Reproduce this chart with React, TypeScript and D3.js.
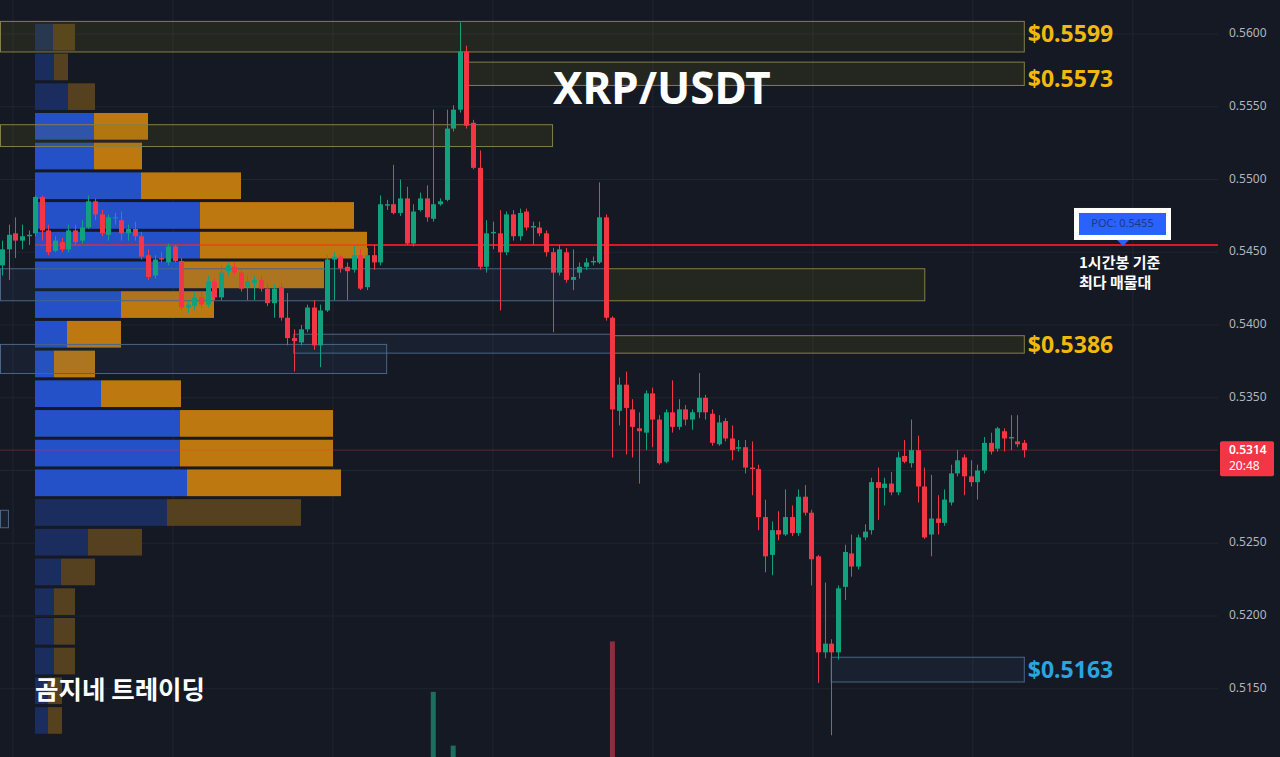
import React from 'react';
import * as d3 from 'd3';

const W = 1280;
const H = 757;

// Hourly candles: [open, high, low, close]
const ohlc: [number, number, number, number][] = [
  [0.5441, 0.5458, 0.5434, 0.5452], [0.5452, 0.5469, 0.5431, 0.5462], [0.5463, 0.5474, 0.5446, 0.5458],
  [0.5458, 0.5469, 0.5452, 0.5461], [0.5461, 0.5465, 0.5455, 0.5462], [0.5463, 0.5489, 0.5461, 0.5488],
  [0.5488, 0.5489, 0.5458, 0.5465], [0.5465, 0.5469, 0.5448, 0.5450], [0.5451, 0.5461, 0.5450, 0.5458],
  [0.5457, 0.5460, 0.5450, 0.5452], [0.5452, 0.5469, 0.5450, 0.5465], [0.5465, 0.5469, 0.5455, 0.5457],
  [0.5458, 0.5472, 0.5456, 0.5467], [0.5467, 0.5489, 0.5466, 0.5485], [0.5485, 0.5487, 0.5472, 0.5476],
  [0.5476, 0.5479, 0.5461, 0.5463], [0.5462, 0.5476, 0.5458, 0.5474], [0.5474, 0.5477, 0.5469, 0.5474],
  [0.5472, 0.5478, 0.5458, 0.5463], [0.5463, 0.5469, 0.5458, 0.5466], [0.5466, 0.5471, 0.5458, 0.5461],
  [0.5461, 0.5464, 0.5445, 0.5447], [0.5448, 0.5452, 0.5431, 0.5433], [0.5434, 0.5448, 0.5432, 0.5445],
  [0.5446, 0.5450, 0.5443, 0.5445], [0.5443, 0.5456, 0.5441, 0.5454], [0.5454, 0.5455, 0.5443, 0.5444],
  [0.5444, 0.5446, 0.5410, 0.5412], [0.5412, 0.5417, 0.5408, 0.5414], [0.5413, 0.5423, 0.5410, 0.5419],
  [0.5419, 0.5423, 0.5412, 0.5414], [0.5414, 0.5434, 0.5412, 0.5430], [0.5430, 0.5432, 0.5417, 0.5419],
  [0.5419, 0.5441, 0.5417, 0.5436], [0.5437, 0.5443, 0.5434, 0.5441], [0.5440, 0.5443, 0.5434, 0.5436],
  [0.5436, 0.5439, 0.5423, 0.5425], [0.5426, 0.5434, 0.5417, 0.5430], [0.5429, 0.5434, 0.5417, 0.5431],
  [0.5431, 0.5434, 0.5423, 0.5425], [0.5425, 0.5428, 0.5413, 0.5415], [0.5415, 0.5428, 0.5405, 0.5425],
  [0.5426, 0.5429, 0.5403, 0.5405], [0.5405, 0.5422, 0.5386, 0.5391], [0.5391, 0.5397, 0.5368, 0.5389],
  [0.5388, 0.5400, 0.5386, 0.5397], [0.5397, 0.5414, 0.5395, 0.5412], [0.5412, 0.5417, 0.5383, 0.5386],
  [0.5386, 0.5414, 0.5371, 0.5410], [0.5410, 0.5448, 0.5409, 0.5445], [0.5445, 0.5450, 0.5417, 0.5447],
  [0.5447, 0.5448, 0.5436, 0.5439], [0.5440, 0.5443, 0.5417, 0.5437], [0.5438, 0.5455, 0.5436, 0.5448],
  [0.5448, 0.5452, 0.5424, 0.5425], [0.5426, 0.5453, 0.5424, 0.5448], [0.5448, 0.5455, 0.5438, 0.5443],
  [0.5443, 0.5489, 0.5441, 0.5483], [0.5482, 0.5486, 0.5479, 0.5483], [0.5483, 0.5510, 0.5476, 0.5477],
  [0.5477, 0.5500, 0.5475, 0.5487], [0.5487, 0.5495, 0.5455, 0.5456], [0.5456, 0.5483, 0.5454, 0.5478],
  [0.5479, 0.5491, 0.5478, 0.5487], [0.5487, 0.5496, 0.5471, 0.5474], [0.5473, 0.5548, 0.5471, 0.5483],
  [0.5483, 0.5487, 0.5482, 0.5485], [0.5486, 0.5548, 0.5485, 0.5535], [0.5535, 0.5551, 0.5533, 0.5548],
  [0.5548, 0.5608, 0.5546, 0.5588], [0.5588, 0.5592, 0.5535, 0.5537], [0.5539, 0.5541, 0.5507, 0.5508],
  [0.5508, 0.5520, 0.5438, 0.5440], [0.5440, 0.5472, 0.5436, 0.5463], [0.5463, 0.5471, 0.5452, 0.5464],
  [0.5463, 0.5479, 0.5410, 0.5450], [0.5450, 0.5478, 0.5448, 0.5476], [0.5476, 0.5479, 0.5458, 0.5461],
  [0.5461, 0.5480, 0.5458, 0.5477], [0.5478, 0.5480, 0.5465, 0.5467], [0.5467, 0.5471, 0.5455, 0.5468],
  [0.5467, 0.5471, 0.5461, 0.5463], [0.5463, 0.5465, 0.5447, 0.5450], [0.5450, 0.5453, 0.5395, 0.5436],
  [0.5436, 0.5455, 0.5434, 0.5452], [0.5450, 0.5453, 0.5429, 0.5431], [0.5431, 0.5452, 0.5424, 0.5433],
  [0.5436, 0.5443, 0.5432, 0.5440], [0.5440, 0.5446, 0.5438, 0.5443], [0.5443, 0.5447, 0.5441, 0.5444],
  [0.5443, 0.5498, 0.5442, 0.5474], [0.5474, 0.5476, 0.5403, 0.5405], [0.5405, 0.5406, 0.5309, 0.5342],
  [0.5341, 0.5364, 0.5331, 0.5359], [0.5359, 0.5368, 0.5311, 0.5343], [0.5342, 0.5349, 0.5309, 0.5330],
  [0.5329, 0.5340, 0.5291, 0.5327], [0.5326, 0.5355, 0.5314, 0.5353], [0.5353, 0.5357, 0.5316, 0.5335],
  [0.5335, 0.5338, 0.5304, 0.5305], [0.5306, 0.5342, 0.5305, 0.5340], [0.5340, 0.5362, 0.5326, 0.5330],
  [0.5330, 0.5349, 0.5328, 0.5342], [0.5342, 0.5345, 0.5331, 0.5335], [0.5335, 0.5342, 0.5328, 0.5340],
  [0.5340, 0.5367, 0.5336, 0.5350], [0.5350, 0.5352, 0.5335, 0.5340], [0.5339, 0.5342, 0.5317, 0.5319],
  [0.5318, 0.5338, 0.5317, 0.5333], [0.5334, 0.5336, 0.5320, 0.5322], [0.5322, 0.5331, 0.5307, 0.5314],
  [0.5315, 0.5321, 0.5313, 0.5316], [0.5316, 0.5321, 0.5298, 0.5302], [0.5302, 0.5320, 0.5283, 0.5301],
  [0.5301, 0.5304, 0.5259, 0.5268], [0.5268, 0.5280, 0.5230, 0.5241], [0.5242, 0.5265, 0.5228, 0.5259],
  [0.5259, 0.5272, 0.5252, 0.5256], [0.5256, 0.5287, 0.5255, 0.5268], [0.5268, 0.5276, 0.5255, 0.5257],
  [0.5257, 0.5287, 0.5255, 0.5282], [0.5282, 0.5290, 0.5269, 0.5271], [0.5271, 0.5273, 0.5221, 0.5239],
  [0.5241, 0.5242, 0.5154, 0.5175], [0.5175, 0.5223, 0.5171, 0.5181], [0.5181, 0.5184, 0.5118, 0.5175],
  [0.5175, 0.5221, 0.5170, 0.5219], [0.5220, 0.5249, 0.5211, 0.5244], [0.5243, 0.5256, 0.5227, 0.5234],
  [0.5234, 0.5256, 0.5232, 0.5254], [0.5254, 0.5263, 0.5252, 0.5258], [0.5259, 0.5295, 0.5256, 0.5292],
  [0.5292, 0.5302, 0.5266, 0.5288], [0.5288, 0.5295, 0.5276, 0.5291], [0.5291, 0.5299, 0.5283, 0.5285],
  [0.5285, 0.5313, 0.5283, 0.5309], [0.5310, 0.5321, 0.5305, 0.5306], [0.5305, 0.5335, 0.5302, 0.5314],
  [0.5314, 0.5324, 0.5278, 0.5289], [0.5289, 0.5302, 0.5253, 0.5254], [0.5256, 0.5297, 0.5241, 0.5267],
  [0.5267, 0.5283, 0.5256, 0.5264], [0.5264, 0.5287, 0.5262, 0.5280], [0.5278, 0.5304, 0.5276, 0.5298],
  [0.5298, 0.5314, 0.5296, 0.5307], [0.5309, 0.5311, 0.5283, 0.5296], [0.5296, 0.5307, 0.5289, 0.5292],
  [0.5292, 0.5304, 0.5280, 0.5300], [0.5300, 0.5323, 0.5298, 0.5319], [0.5319, 0.5326, 0.5311, 0.5313],
  [0.5315, 0.5330, 0.5313, 0.5329], [0.5327, 0.5329, 0.5313, 0.5322], [0.5322, 0.5338, 0.5314, 0.5323],
  [0.5320, 0.5338, 0.5316, 0.5318], [0.5319, 0.5321, 0.5309, 0.5314],
];

// Visible volume spikes (rest of the volume pane is below the frame): candle index, volume (M XRP)
const volumeIdx = [65, 68, 92];
const volumeVal = [1.68, 1.2, 2.13];

// Volume profile (24 bins from period high to low), buy / sell volume
const profileBuy = [18, 19, 33, 59, 59, 106, 165, 165, 146, 86, 32, 19, 66, 145, 145, 152, 132, 53, 26, 19, 19, 19, 13, 13];
const profileSell = [22, 14, 27, 54, 48, 100, 154, 167, 143, 93, 54, 41, 80, 153, 153, 154, 134, 54, 34, 21, 21, 21, 14, 14];
const valueAreaFirst = 3;
const valueAreaLast = 15;

// Zones
type Zone = { from: number; to: number; top: number; bottom: number; kind: 'y' | 'b'; label?: string; labelPrice?: number };
const zones: Zone[] = [
  { from: -1, to: 154, top: 0.5609, bottom: 0.5588, kind: 'y', label: '$0.5599', labelPrice: 0.5599 },
  { from: 70.2, to: 154, top: 0.5581, bottom: 0.5565, kind: 'y', label: '$0.5573', labelPrice: 0.5568 },
  { from: -1, to: 82.9, top: 0.5538, bottom: 0.5523, kind: 'y' },
  { from: -1, to: 90.9, top: 0.5439, bottom: 0.5417, kind: 'b' },
  { from: 90.9, to: 139, top: 0.5439, bottom: 0.5417, kind: 'y' },
  { from: 43.9, to: 92, top: 0.5394, bottom: 0.5381, kind: 'b' },
  { from: 92, to: 154, top: 0.5393, bottom: 0.5381, kind: 'y', label: '$0.5386', labelPrice: 0.5385 },
  { from: -1, to: 57.9, top: 0.5387, bottom: 0.5367, kind: 'b' },
  { from: -1, to: 0.9, top: 0.5273, bottom: 0.5261, kind: 'b' },
  { from: 124.9, to: 154, top: 0.5172, bottom: 0.5155, kind: 'b', label: '$0.5163', labelPrice: 0.5162 },
];

const priceTicks = [0.515, 0.52, 0.525, 0.53, 0.535, 0.54, 0.545, 0.55, 0.555, 0.56];
const hiddenTick = 0.53;
const poc = 0.5455;
const lastPrice = 0.5314;
const lastTime = '20:48';

const UP = '#12a07f';
const DOWN = '#f23645';
const BG = '#151924';
const GRID = '#212532';

export default function App() {
  const x = d3.scaleLinear().domain([0, ohlc.length - 1]).range([2, 1023.8]);
  const y = d3.scaleLinear().domain([0.515, 0.56]).range([688.75, 34]);
  const vy = d3.scaleLinear().domain([0, 2.5]).range([880, 600]);
  const plotRight = 1218;
  const bodyW = 5;

  const hi = d3.max(ohlc, (d) => d[1]) as number;
  const lo = d3.min(ohlc, (d) => d[2]) as number;
  const nBins = profileBuy.length;
  const binP = (hi - lo) / nBins;
  const pvMax = d3.max(profileBuy.map((b, i) => b + profileSell[i])) as number;
  const px = d3.scaleLinear().domain([0, pvMax]).range([0, 332]);
  const profX = 35;
  const profRight = profX + px(pvMax);

  const gridIdx = d3.range(8).map((k) => 1.66 + 24.11 * k);
  const pocY = y(poc);
  const lastY = y(lastPrice);

  return (
    <div style={{ position: 'fixed', left: 0, top: 0, width: W, height: H, background: BG }}>
      <svg width={W} height={H} style={{ display: 'block' }} fontFamily="'Noto Sans', sans-serif">
        <rect width={W} height={H} fill={BG} />
        {/* grid */}
        {priceTicks.map((t) => (
          <line key={'h' + t} x1={0} x2={plotRight} y1={y(t)} y2={y(t)} stroke={GRID} strokeWidth={1} />
        ))}
        {gridIdx.map((g) => (
          <line key={'v' + g} x1={x(g)} x2={x(g)} y1={0} y2={H} stroke={GRID} strokeWidth={1} />
        ))}

        {/* volume spikes */}
        {volumeIdx.map((idx, k) => {
          const d = ohlc[idx];
          const up = d[3] >= d[0];
          return (
            <rect key={'vol' + idx} x={x(idx) - bodyW / 2} width={bodyW} y={vy(volumeVal[k])} height={H - vy(volumeVal[k]) + 5}
              fill={up ? '#1b6e60' : '#8a2f3b'} />
          );
        })}

        {/* volume profile */}
        {profileBuy.map((b, i) => {
          const top = y(hi - i * binP) + 1.5;
          const h = y(hi - (i + 1) * binP) - y(hi - i * binP) - 3;
          const inVA = i >= valueAreaFirst && i <= valueAreaLast;
          const bw = px(b);
          const sw = px(profileSell[i]);
          return (
            <g key={'pv' + i}>
              <rect x={profX} y={top} width={bw} height={h} fill={inVA ? '#2450c8' : '#1b2d5f'} />
              <rect x={profX + bw} y={top} width={sw} height={h} fill={inVA ? '#be7810' : '#55401f'} />
            </g>
          );
        })}

        {/* zones */}
        {zones.map((z, i) => {
          const x0 = Math.max(0, x(z.from));
          const x1 = x(z.to);
          const y0 = y(z.top);
          const y1 = y(z.bottom);
          return (
            <rect key={'z' + i} x={x0 + 0.5} y={y0 + 0.5} width={x1 - x0} height={y1 - y0}
              fill={z.kind === 'y' ? 'rgba(110,110,10,0.17)' : 'rgba(60,95,140,0.12)'}
              stroke={z.kind === 'y' ? '#857f45' : '#4a6585'} strokeWidth={1} />
          );
        })}

        {/* POC line */}
        <line x1={profX} x2={profRight} y1={pocY} y2={pocY} stroke="#ff3010" strokeOpacity={0.55} strokeWidth={2} />
        <line x1={profRight} x2={plotRight} y1={pocY} y2={pocY} stroke="#d81b1f" strokeWidth={2} />

        {/* last price line */}
        <line x1={0} x2={plotRight} y1={lastY} y2={lastY} stroke="#f23645" strokeOpacity={0.35} strokeWidth={1} />

        {/* candles */}
        {ohlc.map((d, i) => {
          const [o, h, l, c] = d;
          const up = c >= o;
          const col = up ? UP : DOWN;
          const cx = Math.round(x(i)) + 0.5;
          const bt = y(Math.max(o, c));
          const bb = y(Math.min(o, c));
          return (
            <g key={'c' + i}>
              <line x1={cx} x2={cx} y1={y(h)} y2={y(l)} stroke={col} strokeWidth={1} />
              <rect x={cx - bodyW / 2} y={bt} width={bodyW} height={Math.max(1, bb - bt)} fill={col} />
            </g>
          );
        })}

        {/* zone labels */}
        {zones.filter((z) => z.label).map((z, i) => (
          <text key={'zl' + i} x={x(154) + 4} y={y(z.labelPrice as number)} dominantBaseline="middle"
            fontSize={23} fontWeight={700} fill={z.kind === 'y' ? '#f2b90d' : '#2ba4e0'}>
            {z.label}
          </text>
        ))}

        {/* title and watermark */}
        <text x={553} y={104} fontSize={44} fontWeight={700} fill="#ffffff">XRP/USDT</text>
        <text x={35} y={699} fontSize={25.5} fontWeight={700} fill="#ffffff" fontFamily="'Noto Sans CJK KR', sans-serif">곰지네 트레이딩</text>

        {/* POC badge */}
        <rect x={1074} y={pocY - 37} width={97} height={32} fill="#ffffff" />
        <rect x={1079} y={pocY - 32} width={87} height={22} fill="#2962ff" />
        <text x={1122.5} y={pocY - 20.5} textAnchor="middle" dominantBaseline="middle" fontSize={11} fill="#1d3a86">POC: {poc.toFixed(4)}</text>
        <path d={`M${1117},${pocY - 5} L${1129},${pocY - 5} L${1123},${pocY + 1} Z`} fill="#2962ff" />
        <text x={1079} y={pocY + 23} fontSize={15} fontWeight={700} fill="#ffffff" fontFamily="'Noto Sans CJK KR', sans-serif">1시간봉 기준</text>
        <text x={1079} y={pocY + 43} fontSize={15} fontWeight={700} fill="#ffffff" fontFamily="'Noto Sans CJK KR', sans-serif">최다 매물대</text>

        {/* price axis */}
        {priceTicks.filter((t) => t !== hiddenTick).map((t) => (
          <text key={'t' + t} x={1229} y={y(t)} dominantBaseline="middle" fontSize={12} fill="#b2b5be">{t.toFixed(4)}</text>
        ))}
        <rect x={1220} y={lastY - 9} width={54} height={35} rx={2} fill="#f23645" />
        <text x={1229} y={lastY + 1} dominantBaseline="middle" fontSize={12} fontWeight={600} fill="#ffffff">{lastPrice.toFixed(4)}</text>
        <text x={1229} y={lastY + 17} dominantBaseline="middle" fontSize={12} fill="#ffffff">{lastTime}</text>
      </svg>
    </div>
  );
}
